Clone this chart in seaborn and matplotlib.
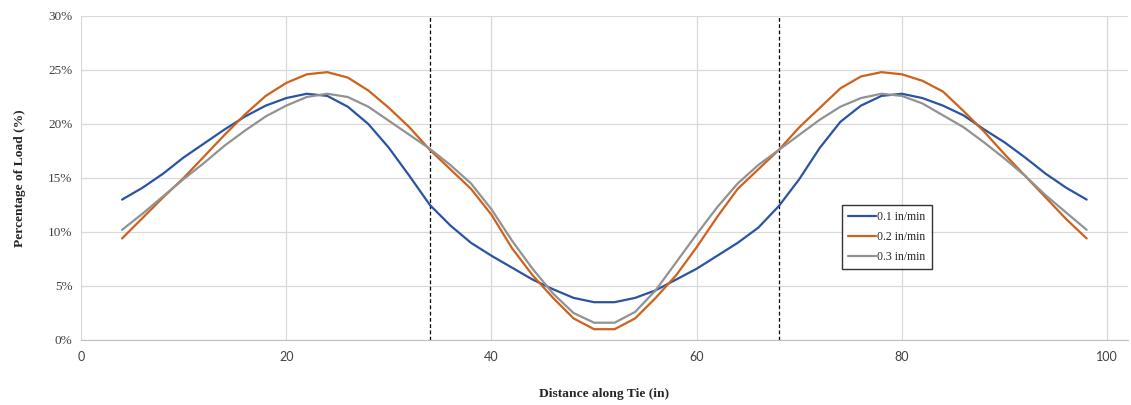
import numpy as np
import pandas as pd
import seaborn as sns
import matplotlib.pyplot as plt
from matplotlib.ticker import PercentFormatter

# distance along tie (in)
dist = list(range(4, 99, 2))

# percentage of load (%)
rate_01 = [13.0, 14.1, 15.4, 16.9, 18.2, 19.5, 20.7, 21.7, 22.4, 22.8, 22.6, 21.6,
           20.0, 17.8, 15.2, 12.5, 10.6, 9.0, 7.8, 6.7, 5.6, 4.7, 3.9, 3.5,
           3.5, 3.9, 4.6, 5.6, 6.6, 7.8, 9.0, 10.4, 12.4, 14.9, 17.8, 20.2,
           21.7, 22.6, 22.8, 22.4, 21.7, 20.8, 19.5, 18.3, 16.9, 15.4, 14.1, 13.0]
rate_02 = [9.4, 11.3, 13.2, 15.0, 17.0, 19.0, 20.9, 22.6, 23.8, 24.6, 24.8, 24.3,
           23.1, 21.5, 19.7, 17.6, 15.8, 14.0, 11.6, 8.5, 6.0, 3.9, 2.0, 1.0,
           1.0, 2.0, 3.9, 6.0, 8.6, 11.4, 14.0, 15.8, 17.6, 19.7, 21.5, 23.3,
           24.4, 24.8, 24.6, 24.0, 23.0, 21.2, 19.3, 17.2, 15.2, 13.2, 11.2, 9.4]
rate_03 = [10.2, 11.7, 13.3, 14.9, 16.4, 18.0, 19.4, 20.7, 21.7, 22.5, 22.8, 22.5,
           21.6, 20.3, 19.0, 17.7, 16.2, 14.5, 12.1, 9.2, 6.6, 4.3, 2.5, 1.6,
           1.6, 2.6, 4.6, 7.2, 9.8, 12.3, 14.5, 16.2, 17.6, 19.0, 20.4, 21.6,
           22.4, 22.8, 22.6, 21.9, 20.8, 19.7, 18.3, 16.8, 15.2, 13.4, 11.8, 10.2]
labels = ['0.1 in/min', '0.2 in/min', '0.3 in/min']
colors = ['#2b53a3', '#cc621c', '#929292']
tie_marks = [34, 68]

frames = []
for lab, vals in zip(labels, [rate_01, rate_02, rate_03]):
    frames.append(pd.DataFrame({'dist': dist, 'load': np.array(vals) / 100, 'rate': lab}))
df = pd.concat(frames, ignore_index=True)

sns.set_style('white')
plt.rcParams['font.family'] = ['Liberation Serif', 'DejaVu Serif']

fig = plt.figure(figsize=(11.31, 4.05), dpi=100)
ax = fig.add_axes([0.0716, 0.1605, 0.9255, 0.80])

sns.lineplot(data=df, x='dist', y='load', hue='rate', palette=colors,
             linewidth=1.6, ax=ax, zorder=3)

for xv in tie_marks:
    ax.axvline(xv, color='black', linestyle=(0, (3, 2)), linewidth=0.9, zorder=2)

ax.set_xlim(0, 102)
ax.set_ylim(0, 0.30)
ax.set_xticks(range(0, 101, 20))
ax.set_yticks(np.arange(0, 0.301, 0.05))
ax.yaxis.set_major_formatter(PercentFormatter(1.0, decimals=0))
ax.grid(True, color='#d9d9d9', linewidth=0.9)
ax.set_axisbelow(True)
for side in ['top', 'right', 'left']:
    ax.spines[side].set_visible(False)
ax.spines['bottom'].set_color('#bfbfbf')
ax.tick_params(axis='y', length=0, labelsize=9.5, colors='#404040', pad=6)
ax.tick_params(axis='x', length=0, labelsize=9, colors='#404040', pad=8)
for t in ax.get_xticklabels():
    t.set_family(['Lato', 'DejaVu Sans'])

ax.set_xlabel('Distance along Tie (in)', fontsize=9.7, fontweight='bold', color='#262626', labelpad=18)
ax.set_ylabel('Percentage of Load (%)', fontsize=9.7, fontweight='bold', color='#262626', labelpad=16)

leg = ax.legend(loc='upper left', bbox_to_anchor=(0.727, 0.417), borderaxespad=0,
                frameon=True, fancybox=False, edgecolor='black', fontsize=8.5,
                handlelength=2.4, handletextpad=0.1, labelspacing=0.7, borderpad=0.5)
leg.get_frame().set_linewidth(1.0)

plt.savefig('out.png', dpi=100)
